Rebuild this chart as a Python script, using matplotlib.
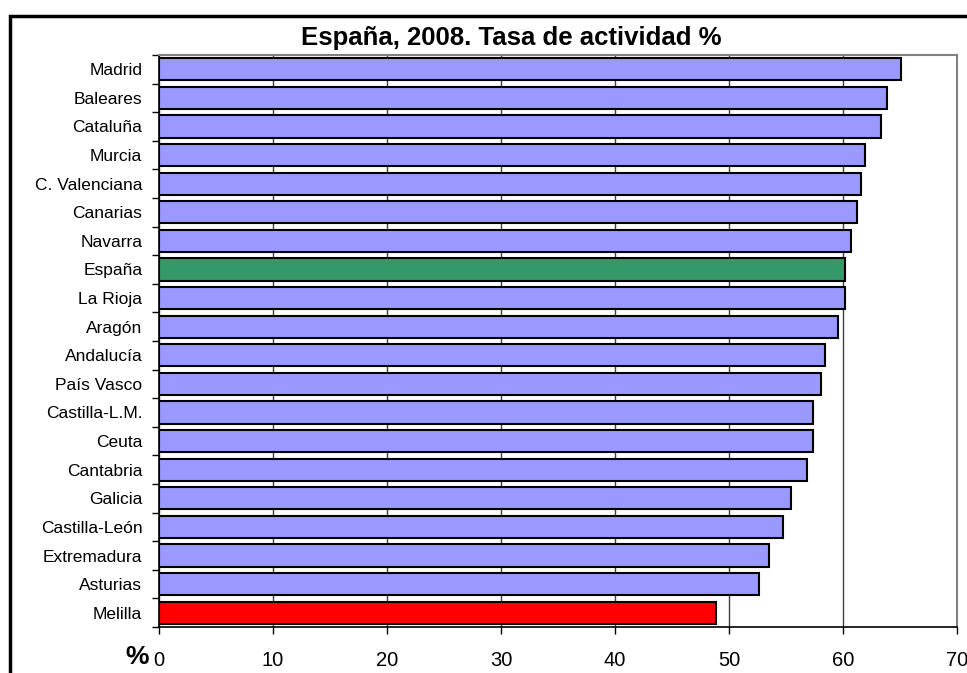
import matplotlib
matplotlib.use("Agg")
import matplotlib.pyplot as plt
from matplotlib.patches import Rectangle

plt.rcParams["font.family"] = ["Liberation Sans", "DejaVu Sans"]

regiones = [
    "Madrid", "Baleares", "Cataluña", "Murcia", "C. Valenciana", "Canarias",
    "Navarra", "España", "La Rioja", "Aragón", "Andalucía", "País Vasco",
    "Castilla-L.M.", "Ceuta", "Cantabria", "Galicia", "Castilla-León",
    "Extremadura", "Asturias", "Melilla",
]
tasa = [
    65.1, 63.9, 63.3, 61.9, 61.6, 61.2, 60.7, 60.2, 60.2, 59.6,
    58.4, 58.1, 57.4, 57.4, 56.8, 55.4, 54.7, 53.5, 52.6, 48.9,
]
x_ticks = [0, 10, 20, 30, 40, 50, 60, 70]

BLUE = "#9999FF"
colores = []
for r in regiones:
    if r == "España":
        colores.append("#339966")
    elif r == "Melilla":
        colores.append("#FF0000")
    else:
        colores.append(BLUE)

W, H = 967, 673
fig = plt.figure(figsize=(W / 100, H / 100), dpi=100)
ax = fig.add_axes([159 / W, 1 - 627 / H, (957 - 159) / W, (627 - 55) / H])

y_pos = list(range(len(regiones)))
ax.barh(y_pos, tasa, height=0.77, color=colores, edgecolor="black",
        linewidth=1.5, zorder=3)
ax.set_ylim(len(regiones) - 0.5, -0.5)
ax.set_xlim(0, 70)
ax.set_xticks(x_ticks)
ax.set_xticklabels([str(t) for t in x_ticks], fontsize=14.5)
# ticks sit between categories, labels centred on each bar
ax.set_yticks([i + 0.5 for i in range(-1, len(regiones))], minor=False)
ax.set_yticklabels([])
ax.set_yticks(y_pos, minor=True)
ax.set_yticklabels(regiones, minor=True, fontsize=12.5)
ax.tick_params(axis="y", which="minor", length=0, pad=12)
ax.tick_params(axis="y", which="major", length=5, width=1)
ax.tick_params(axis="x", length=5, width=1, pad=12)

ax.grid(axis="x", color="#404040", linewidth=1, zorder=0)
for side in ["top", "right"]:
    ax.spines[side].set_color("#808080")
    ax.spines[side].set_linewidth(1.5)
for side in ["left", "bottom"]:
    ax.spines[side].set_color("black")
    ax.spines[side].set_linewidth(1.2)

fig.text(511 / W, 1 - 38 / H, "España, 2008. Tasa de actividad %",
         ha="center", va="center", fontsize=18.5, fontweight="bold")
fig.text(137 / W, 1 - 657 / H, "%", ha="center", va="center",
         fontsize=19, fontweight="bold")

# outer chart frame, open past the right and bottom edges
fig.patches.append(Rectangle((10 / W, -0.05), 1.1, 1.05 - 16 / H,
                             transform=fig.transFigure, fill=False,
                             edgecolor="black", linewidth=2.5))

fig.savefig("out.png", dpi=100)
